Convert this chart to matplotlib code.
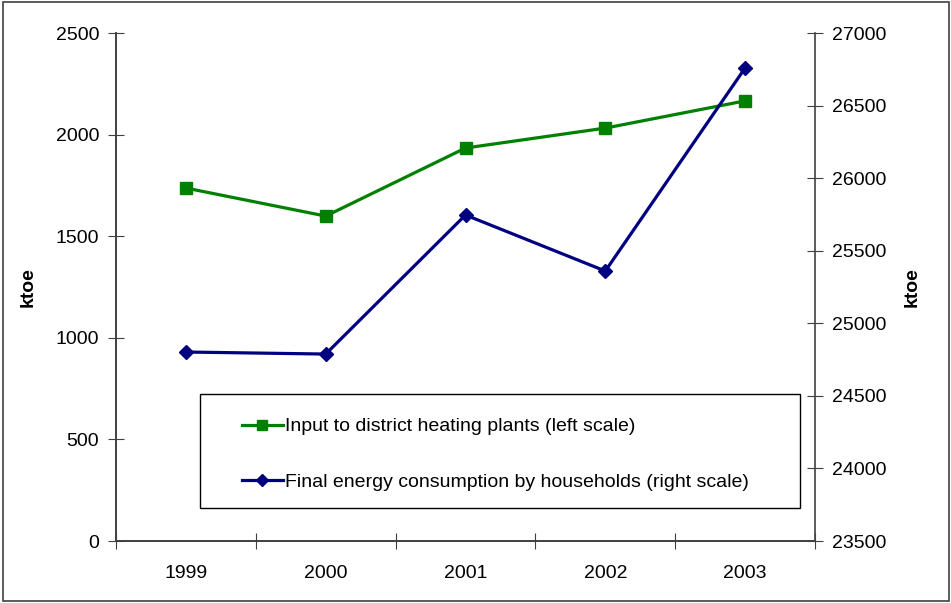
import matplotlib
matplotlib.use("Agg")
import matplotlib.pyplot as plt
from matplotlib.patches import Rectangle

plt.rcParams['font.family'] = ['Liberation Sans', 'DejaVu Sans']

years = ['1999', '2000', '2001', '2002', '2003']
heating_input = [1737, 1599, 1934, 2032, 2166]          # left scale
household_final = [24802, 24788, 25746, 25360, 26759]   # right scale

left_ticks = [0, 500, 1000, 1500, 2000, 2500]
right_ticks = [23500, 24000, 24500, 25000, 25500, 26000, 26500, 27000]

green = '#008000'
navy = '#000080'
axis_col = '#404040'
fs = 14

fig = plt.figure(figsize=(9.51, 6.03), dpi=100)
ax = fig.add_axes([116 / 951, 1 - 541 / 603, 699 / 951, 508 / 603])
ax2 = ax.twinx()

x = list(range(len(years)))
l1, = ax.plot(x, heating_input, color=green, linewidth=2.3, marker='s',
              markersize=9, label='Input to district heating plants (left scale)')
l2, = ax2.plot(x, household_final, color=navy, linewidth=2.3, marker='D',
               markersize=7, label='Final energy consumption by households (right scale)')

ax.set_xlim(-0.5, 4.5)
ax.set_ylim(0, 2500)
ax2.set_ylim(23500, 27000)
ax.set_yticks(left_ticks)
ax2.set_yticks(right_ticks)

# category ticks sit on the boundaries, labels in the middle
ax.set_xticks([i - 0.5 for i in range(len(years) + 1)])
ax.set_xticklabels([''] * (len(years) + 1))
ax.set_xticks(x, minor=True)
ax.set_xticklabels(years, minor=True)
ax.tick_params(axis='x', which='minor', length=0, pad=17, labelsize=fs)
ax.tick_params(axis='x', which='major', direction='inout', length=12, color=axis_col)

ax.tick_params(axis='y', direction='inout', length=12, labelsize=fs, pad=6, color=axis_col)
ax2.tick_params(axis='y', direction='inout', length=12, labelsize=fs, pad=6, color=axis_col)

for a in (ax, ax2):
    a.spines['top'].set_visible(False)
    for s in ('left', 'right', 'bottom'):
        a.spines[s].set_color(axis_col)
        a.spines[s].set_linewidth(1.2)
ax.spines['right'].set_visible(False)

ax.set_ylabel('ktoe', fontsize=fs, fontweight='bold', labelpad=14)
ax2.set_ylabel('ktoe', fontsize=fs, fontweight='bold', rotation=90, labelpad=12.5)

# legend box
box = Rectangle((200 / 951, 1 - 508 / 603), 600 / 951, 114 / 603,
                transform=fig.transFigure, facecolor='white', edgecolor='black',
                linewidth=1.0, zorder=5)
ax2.add_artist(box)
box.set_clip_on(False)
leg = fig.legend(handles=[l1, l2], loc='upper left',
                 bbox_to_anchor=(232 / 951, 1 - 408 / 603), frameon=False,
                 fontsize=fs, handlelength=2.1, handletextpad=0.15,
                 labelspacing=1.95, borderpad=0, markerscale=0.85)
leg.set_zorder(6)

# outer border of the figure
fig.patches.append(Rectangle((3 / 951, 2 / 603), 946 / 951, 599 / 603,
                             transform=fig.transFigure, fill=False,
                             edgecolor=axis_col, linewidth=1.2))

fig.savefig('out.png', dpi=100)
